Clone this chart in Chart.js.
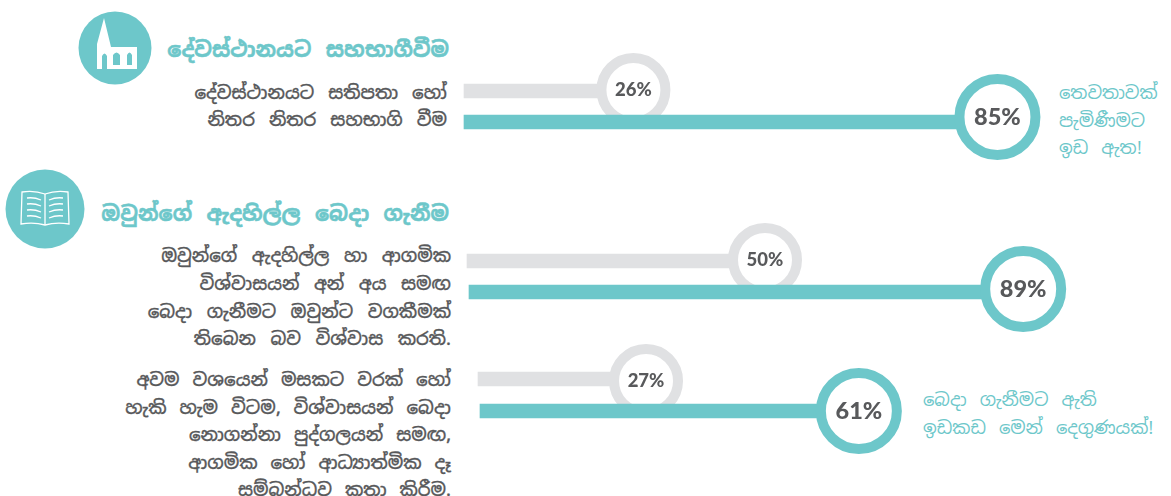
<!DOCTYPE html>
<html>
<head>
<meta charset="utf-8">
<script src="https://cdn.jsdelivr.net/npm/chart.js@4"></script>
<style>
  html, body { margin: 0; padding: 0; background: #fff; }
  #page { position: relative; width: 1171px; height: 496px; overflow: hidden; font-family: "Noto Sans Sinhala", "Noto Sans", "DejaVu Sans", sans-serif; }
  #page canvas { position: absolute; left: 0; }
  #page svg { position: absolute; left: 0; top: 0; }
  .text { position: absolute; white-space: pre; word-spacing: 4px; }
  .title { color: #6dc7ca; font-size: 21px; font-weight: 700; line-height: 30px; right: 722px; -webkit-text-stroke: 0.5px #6dc7ca; }
  .label { color: #58595b; font-size: 18px; font-weight: 500; text-align: right; -webkit-text-stroke: 0.3px #58595b; }
  .note { color: #6dc7ca; font-size: 18px; line-height: 27.5px; }
</style>
</head>
<body>
<div id="page">
  <svg width="1171" height="496">
    <circle cx="115" cy="48" r="36.5" fill="#6dc7ca"/>
    <path d="M104 18 L97 44 L97 69 L137 69 L137 47 L111 47 Z" fill="#fff"/>
    <path d="M102 69 L102 56 Q104.500 51 107 56 L107 69 Z M113 55 Q116.500 50 120 55 L120 65 L113 65 Z M127 55 Q129.500 50 132 55 L132 65 L127 65 Z" fill="#6dc7ca"/>
    <circle cx="45" cy="209" r="39.500" fill="#6dc7ca"/>
    <path d="M22 192 Q34 190 45 194 Q56 190 68 192 L69 224 Q56 222 45 225 Q34 222 21 224 Z" fill="none" stroke="#fff" stroke-width="1.300"/>
    <path d="M45 194 L45 225 M27 198 Q34 197 41 200 M27 204 Q34 203 41 206 M27 210 Q34 209 41 212 M27 216 Q34 215 41 218 M49 200 Q56 197 63 198 M49 206 Q56 203 63 204 M49 212 Q56 209 63 210 M49 218 Q56 215 63 216" fill="none" stroke="#fff" stroke-width="1.300"/>
  </svg>
</div>
<script>
// values
const categories = ["සාමාන්‍ය", "වැඩි"];
const greyValues = [26, 50, 27];
const tealValues = [85, 89, 61];

const titles = ["දේවස්ථානයට සහභාගීවීම", "ඔවුන්ගේ ඇදහිල්ල බෙදා ගැනීම"];
const labels = [
  "දේවස්ථානයට සතිපතා හෝ\nනිතර නිතර සහභාගි වීම",
  "ඔවුන්ගේ ඇදහිල්ල හා ආගමික\nවිශ්වාසයන් අන් අය සමඟ\nබෙදා ගැනීමට ඔවුන්ට වගකීමක්\nතිබෙන බව විශ්වාස කරති.",
  "අවම වශයෙන් මසකට වරක් හෝ\nහැකි හැම විටම, විශ්වාසයන් බෙදා\nනොගන්නා පුද්ගලයන් සමඟ,\nආගමික හෝ ආධ්‍යාත්මික දෑ\nසම්බන්ධව කතා කිරීම."
];
const notes = ["තෙවතාවක්\nපැමිණීමට\nඉඩ ඇත!", "බෙදා ගැනීමට ඇති\nඉඩකඩ මෙන් දෙගුණයක්!"];

const TEAL = "#6dc7ca";
const GREY = "#e0e1e3";
const DARK = "#58595b";

// where each block sits on the page
const blocks = [
  { top: 40, height: 130, barRows: [91, 122], ringRows: [90, 117], zero: 473, pxPerUnit: 6.17, starts: [464, 464] },
  { top: 210, height: 130, barRows: [261, 292], ringRows: [260, 289], zero: 434, pxPerUnit: 6.62, starts: [467, 469] },
  { top: 335, height: 130, barRows: [379, 411], ringRows: [381, 411], zero: 477, pxPerUnit: 6.26, starts: [478, 480] }
];

const page = document.getElementById("page");

function addText(cls, text, css) {
  const el = document.createElement("div");
  el.className = "text " + cls;
  el.textContent = text;
  Object.assign(el.style, css);
  page.appendChild(el);
}

addText("title", titles[0], { top: "35px" });
addText("title", titles[1], { top: "199px" });
addText("label", labels[0], { top: "79px", right: "724px", lineHeight: "27px", wordSpacing: "5px" });
addText("label", labels[1], { top: "242px", right: "720px", lineHeight: "27.800px", wordSpacing: "5.500px" });
addText("label", labels[2], { top: "366px", right: "720px", lineHeight: "27.500px" });
addText("note", notes[0], { left: "1059px", top: "79px" });
addText("note", notes[1], { left: "923px", top: "386px" });

// percent text in the middle of every ring
const ringLabels = {
  id: "ringLabels",
  afterDatasetsDraw(chart) {
    const ctx = chart.ctx;
    chart.data.datasets.forEach((ds, i) => {
      if (ds.type !== "line") return;
      chart.getDatasetMeta(i).data.forEach((pt, j) => {
        const item = ds.data[j];
        if (item.x === null) return;
        ctx.save();
        ctx.fillStyle = DARK;
        ctx.font = "900 " + ds.labelSize + "px Lato";
        ctx.textAlign = "center";
        ctx.textBaseline = "middle";
        ctx.fillText(item.x + "%", pt.x, pt.y);
        ctx.restore();
      });
    });
  }
};

function drawBlock(block, i) {
  const canvas = document.createElement("canvas");
  canvas.style.top = block.top + "px";
  canvas.style.width = "1171px";
  canvas.style.height = block.height + "px";
  canvas.width = 1171;
  canvas.height = block.height;
  page.appendChild(canvas);

  const spacing = block.barRows[1] - block.barRows[0];
  const areaTop = block.barRows[0] - spacing / 2;
  const areaHeight = spacing * 2;
  const ringSpacing = block.ringRows[1] - block.ringRows[0];
  const ringMin = -(block.ringRows[0] - areaTop) / ringSpacing;
  const ringMax = ringMin + areaHeight / ringSpacing;
  const toValue = px => (px - block.zero) / block.pxPerUnit;

  new Chart(canvas, {
    type: "bar",
    data: {
      labels: categories,
      datasets: [
        {
          type: "bar",
          data: [greyValues[i], null],
          base: toValue(block.starts[0]),
          backgroundColor: GREY,
          barThickness: 14,
          grouped: false,
          order: 4,
        },
        {
          type: "line",
          data: [{ x: greyValues[i], y: 0 }, { x: null, y: 1 }],
          yAxisID: "yRing",
          showLine: false,
          clip: false,
          pointRadius: 32,
          pointBorderWidth: 10,
          pointBackgroundColor: "#ffffff",
          pointBorderColor: GREY,
          labelSize: 18.5,
          order: 3,
        },
        {
          type: "bar",
          data: [null, tealValues[i]],
          base: toValue(block.starts[1]),
          backgroundColor: TEAL,
          barThickness: 14,
          grouped: false,
          order: 2,
        },
        {
          type: "line",
          data: [{ x: null, y: 0 }, { x: tealValues[i], y: 1 }],
          yAxisID: "yRing",
          showLine: false,
          clip: false,
          pointRadius: 38,
          pointBorderWidth: 10,
          pointBackgroundColor: "#ffffff",
          pointBorderColor: TEAL,
          labelSize: 23.5,
          order: 1,
        },
      ],
    },
    options: {
      indexAxis: "y",
      responsive: false,
      animation: false,
      layout: {
        autoPadding: false,
        padding: {
          top: areaTop - block.top,
          bottom: block.top + block.height - areaTop - areaHeight,
          left: 0,
          right: 0,
        },
      },
      plugins: {
        legend: { display: false },
        tooltip: { enabled: false },
      },
      scales: {
        x: {
          display: false,
          min: toValue(0),
          max: toValue(1171),
        },
        y: {
          display: false,
        },
        yRing: {
          type: "linear",
          display: false,
          offset: false,
          reverse: true,
          min: ringMin,
          max: ringMax,
        },
      },
    },
    plugins: [ringLabels],
  });
}

blocks.forEach(drawBlock);
</script>
</body>
</html>
